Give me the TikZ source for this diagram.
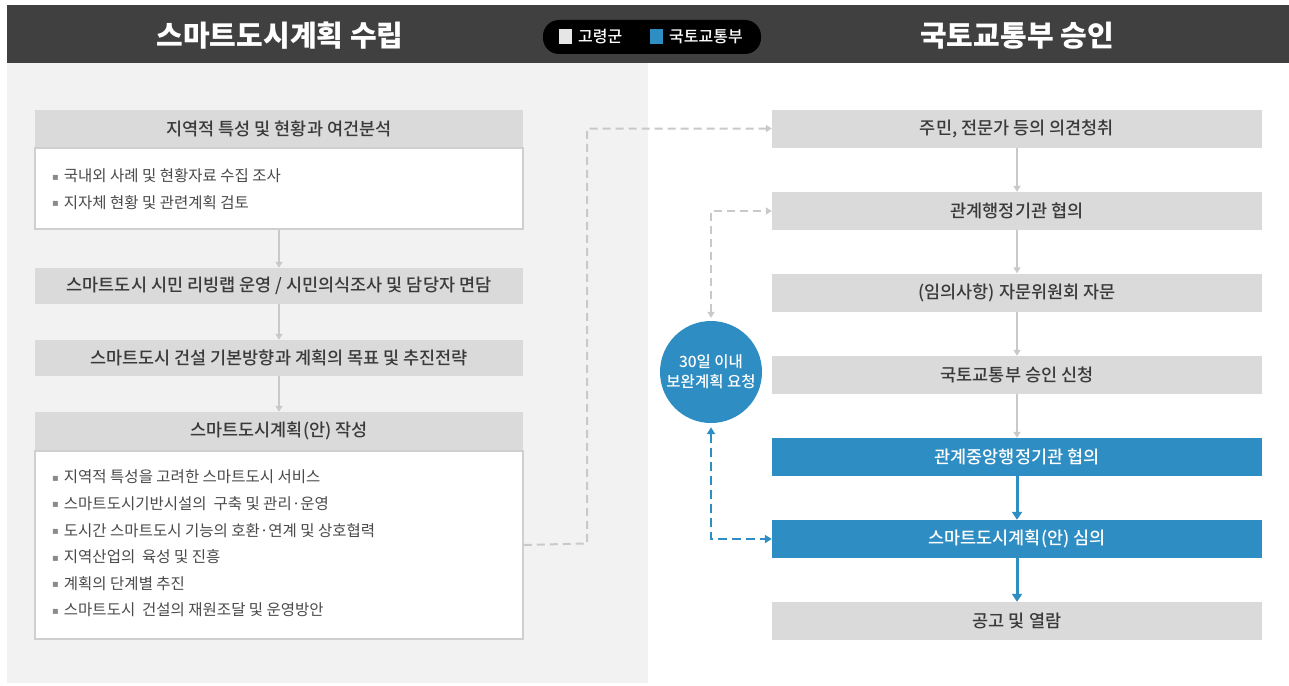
\documentclass[tikz,border=0pt]{standalone}
\usepackage{fontspec}
\setmainfont{Noto Sans CJK KR}
\newfontfamily\krmed{Noto Sans CJK KR Medium}
\newfontfamily\dejavu{DejaVu Sans}
\usetikzlibrary{arrows.meta}
\definecolor{hdrgray}{HTML}{404040}
\definecolor{panelgray}{HTML}{F2F2F2}
\definecolor{boxgray}{HTML}{DADADA}
\definecolor{linegray}{HTML}{C9C9C9}
\definecolor{bordergray}{HTML}{CFCFCF}
\definecolor{txtgray}{HTML}{3A3A3A}
\definecolor{bodytxt}{HTML}{4A4A4A}
\definecolor{bulgray}{HTML}{8A8A8A}
\definecolor{molitblue}{HTML}{2E8DC2}
\definecolor{legsq}{HTML}{E6E6E6}
\newcommand{\bul}{\raisebox{1.5pt}{\dejavu\fontsize{10}{10}\selectfont\textcolor{bulgray}{▪}}\hspace{5pt}}
\tikzset{
  titletext/.style={text=white, font=\bfseries\fontsize{29}{32}\selectfont},
  leftbox/.style={fill=boxgray, minimum width=488pt, inner sep=0pt, text=txtgray, font=\krmed\fontsize{17.5}{20}\selectfont},
  bodybox/.style={fill=white, draw=bordergray, line width=1.5pt, minimum width=488pt, inner sep=0pt},
  bodytext/.style={text=bodytxt, align=left, inner sep=0pt, font=\fontsize{15.5}{26.6}\selectfont},
  rightbox/.style={fill=boxgray, minimum width=490pt, minimum height=38pt, inner sep=0pt, text=txtgray, font=\krmed\fontsize{17.5}{20}\selectfont},
  bluebox/.style={rightbox, fill=molitblue, text=white},
  garrow/.style={draw=linegray, line width=2pt, -{Triangle[length=6pt,width=7pt]}},
  barrow/.style={draw=molitblue, line width=3pt, -{Triangle[length=8pt,width=10pt]}},
  gdash/.style={draw=linegray, line width=2pt, dash pattern=on 8pt off 5pt, {Triangle[length=6pt,width=7pt]}-{Triangle[length=6pt,width=7pt]}},
  gdashend/.style={draw=linegray, line width=2pt, dash pattern=on 8pt off 5pt, -{Triangle[length=6pt,width=7pt]}},
  bdash/.style={draw=molitblue, line width=2.5pt, dash pattern=on 9pt off 5pt, {Triangle[length=7pt,width=8pt]}-{Triangle[length=7pt,width=8pt]}},
  legtext/.style={anchor=west, text=white, inner sep=0pt, font=\krmed\fontsize{16}{18}\selectfont},
}
\begin{document}
\begin{tikzpicture}[x=1pt,y=-1pt]
\useasboundingbox (0,0) rectangle (1289,685);
\fill[white] (0,0) rectangle (1289,685);
% panels
\fill[panelgray] (7,63) rectangle (648,683);
\fill[hdrgray] (7,5) rectangle (1289,63);
\node[titletext] (tl) at (280,36) {스마트도시계획 수립};
\node[titletext] (tr) at (1017,36) {국토교통부 승인};
% legend
\fill[black, rounded corners=16pt] (543,20) rectangle (761,54);
\fill[legsq] (559,29) rectangle (572,44);
\node[legtext] (lg1) at (578,36.5) {고령군};
\fill[molitblue] (650,29) rectangle (663,44);
\node[legtext] (lg2) at (669,36.5) {국토교통부};
% left column
\node[leftbox, minimum height=37pt] (L1) at (279,128.5) {지역적 특성 및 현황과 여건분석};
\node[bodybox, minimum height=81pt, anchor=north] (L1b) at (L1.south) {};
\node[bodytext, anchor=west] (L1t) at (52,189) {\bul 국내외 사례 및 현황자료 수집 조사\\ \bul 지자체 현황 및 관련계획 검토};
\node[leftbox, minimum height=36pt] (L2) at (279,286) {스마트도시 시민 리빙랩 운영 / 시민의식조사 및 담당자 면담};
\node[leftbox, minimum height=36pt] (L3) at (279,358) {스마트도시 건설 기본방향과 계획의 목표 및 추진전략};
\node[leftbox, minimum height=38pt] (L4) at (279,431) {스마트도시계획(안) 작성};
\node[bodybox, minimum height=188pt, anchor=north] (L4b) at (L4.south) {};
\node[bodytext, anchor=west] (L4t) at (52,543.5) {\bul 지역적 특성을 고려한 스마트도시 서비스\\
\bul 스마트도시기반시설의 \ 구축 및 관리·운영\\
\bul 도시간 스마트도시 기능의 호환·연계 및 상호협력\\
\bul 지역산업의 \ 육성 및 진흥\\
\bul 계획의 단계별 추진\\
\bul 스마트도시 \ 건설의 재원조달 및 운영방안};
\draw[garrow] (L1b.south) -- (L2.north);
\draw[garrow] (L2.south) -- (L3.north);
\draw[garrow] (L3.south) -- (L4.north);
% right column
\node[rightbox] (R1) at (1017,128.5) {주민, 전문가 등의 의견청취};
\node[rightbox] (R2) at (1017,211) {관계행정기관 협의};
\node[rightbox] (R3) at (1017,292.5) {(임의사항) 자문위원회 자문};
\node[rightbox] (R4) at (1017,375) {국토교통부 승인 신청};
\node[bluebox] (R5) at (1017,457) {관계중앙행정기관 협의};
\node[bluebox] (R6) at (1017,539) {스마트도시계획(안) 심의};
\node[rightbox] (R7) at (1017,621) {공고 및 열람};
\draw[garrow] (R1.south) -- (R2.north);
\draw[garrow] (R2.south) -- (R3.north);
\draw[garrow] (R3.south) -- (R4.north);
\draw[garrow] (R4.south) -- (R5.north);
\draw[barrow] (R5.south) -- (R6.north);
\draw[barrow] (R6.south) -- (R7.north);
% circle
\node[circle, fill=molitblue, minimum size=102pt, inner sep=0pt, text=white, align=center, font=\krmed\fontsize{15.5}{20}\selectfont] (C) at (711,372) {30일 이내\\보완계획 요청};
% dashed connectors
\coordinate (j1) at (587,543.5);
\draw[gdashend] (L4b.east) -- (j1) |- (R1.west);
\draw[gdash, shorten <=3pt] (C.north) |- (R2.west);
\draw[bdash, shorten <=4pt] (C.south) |- (R6.west);
\end{tikzpicture}
\end{document}
